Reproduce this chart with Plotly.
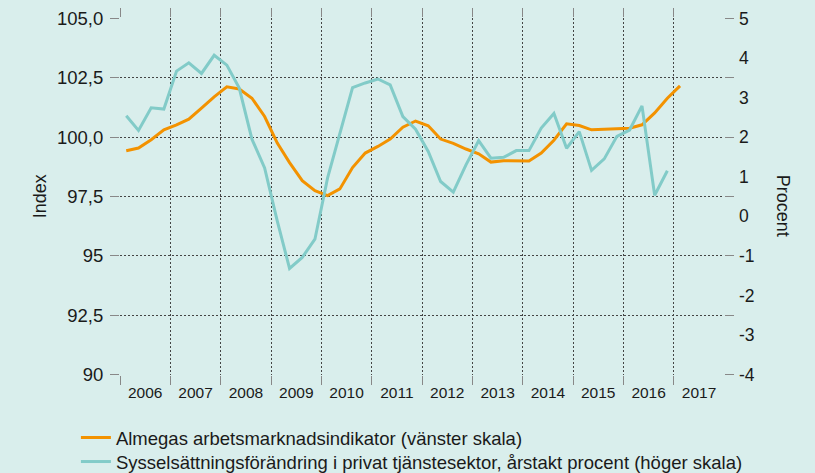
import plotly.graph_objects as go

# ---- data (quarterly) ----
quarters_orange = [f"{y}K{q}" for y in range(2006, 2017) for q in (1, 2, 3, 4)] + ["2017K1"]
quarters_teal = [f"{y}K{q}" for y in range(2006, 2017) for q in (1, 2, 3, 4)]

almega_index = [
    99.43, 99.54, 99.89, 100.31,
    100.52, 100.76, 101.22, 101.70,
    102.12, 102.03, 101.64, 100.87,
    99.75, 98.93, 98.17, 97.75,
    97.54, 97.82, 98.72, 99.33,
    99.61, 99.92, 100.42, 100.68,
    100.48, 99.92, 99.74, 99.50,
    99.30, 98.95, 99.01, 99.01,
    99.00, 99.33, 99.87, 100.56,
    100.49, 100.31, 100.32, 100.35,
    100.38, 100.52, 101.02, 101.64,
    102.16,
]

sysselsattning = [
    2.54, 2.17, 2.74, 2.71,
    3.67, 3.88, 3.61, 4.07,
    3.82, 3.24, 1.95, 1.22,
    -0.12, -1.32, -1.04, -0.58,
    0.97, 2.10, 3.25, 3.37,
    3.47, 3.32, 2.52, 2.20,
    1.64, 0.88, 0.61, 1.30,
    1.91, 1.47, 1.49, 1.66,
    1.66, 2.23, 2.60, 1.72,
    2.14, 1.16, 1.45, 2.02,
    2.18, 2.79, 0.53, 1.15,
]

left_tickvals = [90, 92.5, 95, 97.5, 100, 102.5, 105]
left_ticktext = ["90", "92,5", "95", "97,5", "100,0", "102,5", "105,0"]
right_tickvals = [-4, -3, -2, -1, 0, 1, 2, 3, 4, 5]
right_ticktext = ["-4", "-3", "-2", "-1", "0", "1", "2", "3", "4", "5"]

name_orange = "Almegas arbetsmarknadsindikator (vänster skala)"
name_teal = "Sysselsättningsförändring i privat tjänstesektor, årstakt procent (höger skala)"


def q_to_date(q):
    y, k = q.split("K")
    month = {"1": 2, "2": 5, "3": 8, "4": 11}[k]
    return f"{y}-{month:02d}-15"


BG = "#d9eeec"
ORANGE = "#f39200"
TEAL = "#82cbc8"
GRID = "#444444"
TXT = "#1a1a1a"
FONT = "Liberation Sans, Arial, sans-serif"
DOTS = "2px,2px"

fig = go.Figure()
fig.add_trace(go.Scatter(
    x=[q_to_date(q) for q in quarters_orange], y=almega_index,
    mode="lines", name=name_orange, legend="legend",
    line=dict(color=ORANGE, width=3),
))
fig.add_trace(go.Scatter(
    x=[q_to_date(q) for q in quarters_teal], y=sysselsattning,
    mode="lines", name=name_teal, yaxis="y2", legend="legend2",
    line=dict(color=TEAL, width=3),
))

legend_common = dict(
    orientation="v", x=-0.073, xanchor="left", yanchor="top",
    bgcolor="rgba(0,0,0,0)", font=dict(size=18.5, color=TXT),
)

pad = 0.02
fig.update_layout(
    width=815, height=473,
    margin=dict(l=120, r=91, t=18, b=98, autoexpand=False),
    paper_bgcolor=BG, plot_bgcolor=BG,
    font=dict(family=FONT, color=TXT),
    showlegend=True,
    legend=dict(y=-0.1232, **legend_common),
    legend2=dict(y=-0.1905, **legend_common),
    xaxis=dict(
        type="date",
        range=["2005-12-31 18:00", "2017-12-31"],
        tick0="2006-01-01", dtick="M12", tickformat="%Y",
        ticklabelmode="period",
        showgrid=True, gridcolor=GRID, griddash=DOTS, gridwidth=1,
        ticks="outside", ticklen=9, tickcolor="#888", mirror="ticks",
        showline=False, zeroline=False,
        tickfont=dict(size=15.5, color=TXT),
        ticklabelstandoff=-6,
    ),
    yaxis=dict(
        range=[90 - pad, 105 + pad],
        tickmode="array", tickvals=left_tickvals, ticktext=left_ticktext,
        showgrid=True, gridcolor=GRID, griddash=DOTS, gridwidth=1,
        ticks="outside", ticklen=9, tickcolor="#888", mirror="ticks",
        showline=False, zeroline=False,
        tickfont=dict(size=18.5, color=TXT),
        ticklabelstandoff=3,
    ),
    yaxis2=dict(
        overlaying="y", side="right",
        range=[-4 - pad * 9 / 15, 5 + pad * 9 / 15],
        tickmode="array", tickvals=right_tickvals, ticktext=right_ticktext,
        showgrid=False, zeroline=False, showline=False, ticks="",
        tickfont=dict(size=17.5, color=TXT),
        ticklabelstandoff=14,
    ),
    annotations=[
        dict(text="Index", xref="paper", yref="paper", x=-0.133, y=0.50,
             xanchor="center", yanchor="middle", textangle=-90, showarrow=False,
             font=dict(size=18, color=TXT)),
        dict(text="Procent", xref="paper", yref="paper", x=1.097, y=0.475,
             xanchor="center", yanchor="middle", textangle=90, showarrow=False,
             font=dict(size=18, color=TXT)),
    ],
)

fig.write_html(
    "out.html",
    config={"displayModeBar": False},
    post_script=(
        "document.body.style.margin='0px';"
        "document.body.style.background='" + BG + "';"
    ),
)
